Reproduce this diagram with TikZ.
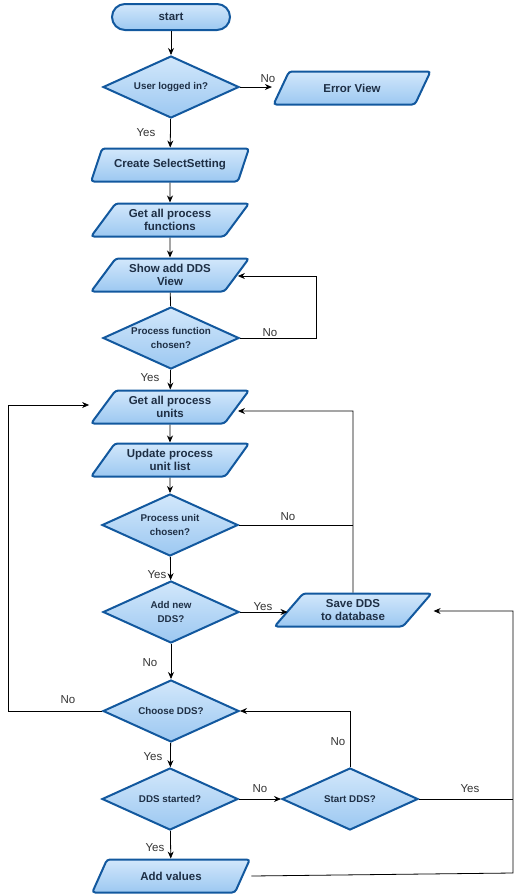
\documentclass[tikz,border=0pt]{standalone}
\usepackage{fontspec}
\setmainfont{Liberation Sans}
\usetikzlibrary{shapes.geometric,arrows.meta}
\definecolor{bord}{HTML}{12589E}
\definecolor{ftop}{HTML}{D2E7FB}
\definecolor{fbot}{HTML}{9CC8F1}
\definecolor{txt}{HTML}{1E2F45}
\definecolor{lbl}{HTML}{333333}
\tikzset{
  base/.style={draw=bord, line width=2pt, top color=ftop, bottom color=fbot, text=txt, align=center, inner sep=0pt},
  io/.style={base, trapezium, trapezium left angle=50, trapezium right angle=130, trapezium stretches=true,
    minimum width=158pt, minimum height=33pt, rounded corners=3pt, font=\bfseries\fontsize{11.5}{13.6}\selectfont},
  decide/.style={base, diamond, aspect=2.3, minimum width=136pt, minimum height=62pt, font=\bfseries\fontsize{9.8}{13.3}\selectfont},
  term/.style={base, rectangle, rounded corners=13pt, minimum width=118pt, minimum height=26pt, font=\bfseries\fontsize{11.5}{13.6}\selectfont},
  conn/.style={line width=0.8pt, black},
  arr/.style={conn, -{Stealth[length=7pt,width=6pt]}},
  lab/.style={text=lbl, font=\fontsize{11.5}{13}\selectfont, inner sep=0pt}
}
\begin{document}
\begin{tikzpicture}[x=1pt,y=-1pt]
\useasboundingbox (0,0) rectangle (523,895);
\node[term] (start) at (171,17) {start};
\node[decide] (d1) at (171,87) {User logged in?};
\node[io] (err) at (352,88) {Error View};
\node[io] (p1) at (170,165) {Create SelectSetting};
\node[io] (p2) at (170,220) {Get all process\\functions};
\node[io] (p3) at (170,275) {Show add DDS\\View};
\node[decide] (d2) at (171,338) {Process function\\chosen?};
\node[io] (p4) at (170,407) {Get all process\\units};
\node[io] (p5) at (170,460) {Update process\\unit list};
\node[decide] (d3) at (170,525) {Process unit\\chosen?};
\node[decide] (d4) at (171,612) {Add new\\DDS?};
\node[io] (save) at (353,610) {Save DDS\\to database};
\node[decide] (d5) at (171,711) {Choose DDS?};
\node[decide] (d6) at (170,799) {DDS started?};
\node[decide] (d7) at (350,799) {Start DDS?};
\node[io] (p6) at (171,876) {Add values};

\coordinate (c1) at (316,338);
\coordinate (c2) at (316,276);
\coordinate (c3) at (353,411);
\coordinate (c4) at (8,711);
\coordinate (c5) at (8,405);
\coordinate (c6) at (350,711);
\coordinate (c7) at (513,873);
\coordinate (c8) at (513,611);

\draw[arr] (start) -- (d1);
\draw[arr] (d1.east) -- (d1.east -| err.bottom left corner);
\draw[arr] (d1) -- (p1);
\draw[arr] (p1) -- (p2);
\draw[arr] (p2) -- (p3);
\draw[conn] (p3) -- (d2);
\draw[arr] (d2.east) -- (c1) -- (c2) -- (c2 -| p3.east);
\draw[arr] (d2) -- (p4);
\draw[arr] (p4) -- (p5);
\draw[arr] (p5) -- (d3);
\draw[conn] (d3.east) -- (d3.east -| save.north);
\draw[arr] (d3) -- (d4);
\draw[arr] (d4.east) -- (d4.east -| save.west);
\draw[arr] (save.north) -- (c3) -- (c3 -| p4.east);
\draw[arr] (d4) -- (d5);
\draw[arr] (d5.west) -- (c4) -- (c5) -- (c5 -| p4.bottom left corner);
\draw[arr] (d7.north) -- (c6) -- (d5.east);
\draw[arr] (d5) -- (d6);
\draw[arr] (d6) -- (d7);
\draw[arr] (d6) -- (p6);
\draw[arr] (p6.east -| p6.top right corner) -- (c7) -- (c8) -- (c8 -| save.top right corner);
\draw[conn] (d7.east) -- (d7.east -| c8);

\node[lab] (l1) at (268,79) {No};
\node[lab] (l2) at (146,133) {Yes};
\node[lab] (l3) at (270,333) {No};
\node[lab] (l4) at (150,378) {Yes};
\node[lab] (l5) at (288,517) {No};
\node[lab] (l6) at (157,575) {Yes};
\node[lab] (l7) at (263,607) {Yes};
\node[lab] (l8) at (150,663) {No};
\node[lab] (l9) at (68,700) {No};
\node[lab] (l10) at (338,742) {No};
\node[lab] (l11) at (153,757) {Yes};
\node[lab] (l12) at (260,789) {No};
\node[lab] (l13) at (470,789) {Yes};
\node[lab] (l14) at (155,848) {Yes};
\end{tikzpicture}
\end{document}
